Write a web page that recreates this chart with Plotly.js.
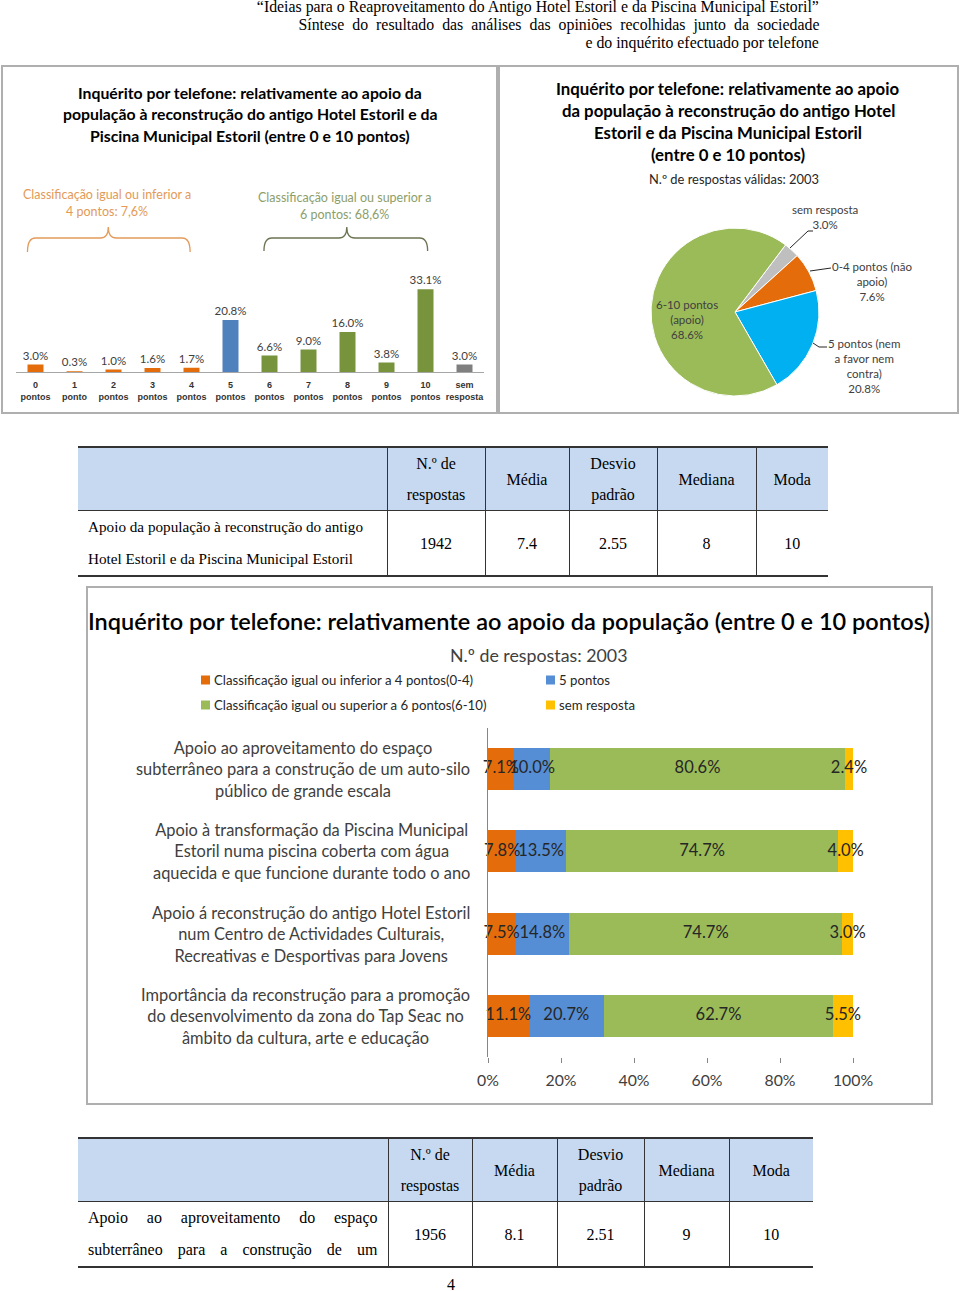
<!DOCTYPE html>
<html>
<head>
<meta charset="utf-8">
<script src="https://cdn.plot.ly/plotly-3.0.1.min.js"></script>
<style>
body{margin:0;background:#fff;width:960px;height:1291px;position:relative;overflow:hidden;font-family:"Liberation Serif",serif;color:#000;}
.box{position:absolute;border:2px solid #AFAFAF;box-sizing:border-box;pointer-events:none;}
.chart{position:absolute;}
.hl{position:absolute;right:141px;white-space:nowrap;font-size:16px;line-height:18px;transform-origin:right center;}
table.st{position:absolute;border-collapse:collapse;table-layout:fixed;font-size:16px;}
table.st td{padding:0;height:62px;line-height:31px;text-align:center;vertical-align:middle;}
table.st td+td{border-left:1px solid #333;}
table.st tr.h td{background:#C6D9F1;border-top:2px solid #333;border-bottom:1px solid #333;}
table.st tr.b td{border-bottom:2px solid #333;}
table.st td.q{text-align:left;padding-left:10px;padding-right:10px;white-space:nowrap;font-size:15.2px;line-height:32px;}
table.st td.j{text-align:justify;text-align-last:justify;font-size:16px;}
#pg{position:absolute;left:447px;top:1276px;font-size:16px;}
</style>
</head>
<body>
<div class="hl" id="h1" style="top:-2px">“Ideias para o Reaproveitamento do Antigo Hotel Estoril e da Piscina Municipal Estoril”</div>
<div class="hl" id="h2" style="top:16px">Síntese do resultado das análises das opiniões recolhidas junto da sociedade</div>
<div class="hl" id="h3" style="top:34px">e do inquérito efectuado por telefone</div>

<div id="bars" class="chart" style="left:2px;top:66px;width:495px;height:347px"></div>
<div class="box" style="left:1px;top:65px;width:497px;height:349px"></div>
<div id="pie" class="chart" style="left:499px;top:66px;width:459px;height:347px"></div>
<div class="box" style="left:498px;top:65px;width:461px;height:349px"></div>

<table class="st" id="t1" style="left:78px;top:446px;width:750px"></table>

<div id="stack" class="chart" style="left:87px;top:587px;width:845px;height:517px"></div>
<div class="box" style="left:86px;top:586px;width:847px;height:519px"></div>

<table class="st" id="t2" style="left:78px;top:1137px;width:735px"></table>
<div id="pg">4</div>

<script>
// ---------- data ----------
// phone survey, share per score (0-10 points)
const scoreLabels = ['0<br>pontos','1<br>ponto','2<br>pontos','3<br>pontos','4<br>pontos','5<br>pontos',
  '6<br>pontos','7<br>pontos','8<br>pontos','9<br>pontos','10<br>pontos','sem<br>resposta'];
const scoreShares = [3.0, 0.3, 1.0, 1.6, 1.7, 20.8, 6.6, 9.0, 16.0, 3.8, 33.1, 3.0];

// pie: grouped answers
const pieLabels = ['sem resposta', '0-4 pontos (não apoio)', '5 pontos (nem a favor nem contra)', '6-10 pontos (apoio)'];
const pieLabelText = ['sem resposta', '0-4 pontos (não<br>apoio)', '5 pontos (nem<br>a favor nem<br>contra)', '6-10 pontos<br>(apoio)'];
const pieShares = [3.0, 7.6, 20.8, 68.6];

// stacked bars: questions and groups
const questions = [
  'Apoio ao aproveitamento do espaço<br>subterrâneo para a construção de um auto-silo<br>público de grande escala',
  'Apoio à transformação da Piscina Municipal<br>Estoril numa piscina coberta com água<br>aquecida e que funcione durante todo o ano',
  'Apoio á reconstrução do antigo Hotel Estoril<br>num Centro de Actividades Culturais,<br>Recreativas e Desportivas para Jovens',
  'Importância da reconstrução para a promoção<br>do desenvolvimento da zona do Tap Seac no<br>âmbito da cultura, arte e educação'
];
const groupNames = ['Classificação igual ou inferior a 4 pontos(0-4)', '5 pontos',
  'Classificação igual ou superior a 6 pontos(6-10)', 'sem resposta'];
const lowShares = [7.1, 7.8, 7.5, 11.1];
const midShares = [10.0, 13.5, 14.8, 20.7];
const highShares = [80.6, 74.7, 74.7, 62.7];
const noAnswerShares = [2.4, 4.0, 3.0, 5.5];

// stats tables
const statHeaders = ['N.º de<br>respostas', 'Média', 'Desvio<br>padrão', 'Mediana', 'Moda'];
const table1Label = 'Apoio da população à reconstrução do antigo<br>Hotel Estoril e da Piscina Municipal Estoril';
const table1Values = ['1942', '7.4', '2.55', '8', '10'];
const table2Label = 'Apoio ao aproveitamento do espaço<br>subterrâneo para a construção de um';
const table2Values = ['1956', '8.1', '2.51', '9', '10'];

// ---------- helpers ----------
const FONT = 'Lato';
function paper(W, H, m) {
  const pw = W - m.l - m.r, ph = H - m.t - m.b;
  return {x: v => (v - m.l) / pw, y: v => (H - m.b - v) / ph};
}
function note(P, text, x, y, size, color, opts) {
  return Object.assign({text: text, xref: 'paper', yref: 'paper', x: P.x(x), y: P.y(y),
    xanchor: 'center', yanchor: 'middle', showarrow: false,
    font: {family: FONT, size: size, color: color}}, opts || {});
}
function bold(size) { return {font: {family: FONT, size: size, color: '#000', weight: 'bold'}}; }

// ---------- header ----------
(function () {
  const h1 = document.getElementById('h1'), h2 = document.getElementById('h2'), h3 = document.getElementById('h3');
  const s = 562 / h1.getBoundingClientRect().width;
  const w2 = h2.getBoundingClientRect().width;
  const gaps = h2.textContent.split(' ').length - 1;
  h2.style.wordSpacing = ((521 / s - w2) / gaps) + 'px';
  [h1, h2, h3].forEach(el => el.style.transform = 'scaleX(' + s + ')');
})();

// ---------- chart 1: bars ----------
const W1 = 495, H1 = 347, m1 = {l: 13.5, r: 12.5, t: 206, b: 41};
const P1 = paper(W1, H1, m1);
const barColors = scoreLabels.map((s, i) => i < 5 ? '#E46C0A' : i === 5 ? '#4F81BD' : i < 11 ? '#77933C' : '#7F7F7F');
const orangeTxt = '#E39A58', greenTxt = '#8C9E6A';

const ann1 = [
  note(P1, 'Inquérito por telefone: relativamente ao apoio da', 248, 26, 15.8, '#000', bold(15.8)),
  note(P1, 'população à reconstrução do antigo Hotel Estoril e da', 248, 47, 15.8, '#000', bold(15.8)),
  note(P1, 'Piscina Municipal Estoril (entre 0 e 10 pontos)', 248, 69, 15.8, '#000', bold(15.8)),
  note(P1, 'Classificação igual ou inferior a', 105, 128, 12.5, orangeTxt),
  note(P1, '4 pontos: 7,6%', 105, 145, 12.5, orangeTxt),
  note(P1, 'Classificação igual ou superior a', 343, 131, 12.5, greenTxt),
  note(P1, '6 pontos: 68,6%', 343, 148, 12.5, greenTxt)
];
function brace(P, x0, xc, x1, yl, ye, yp, color) {
  const pt = (x, y) => P.x(x) + ',' + P.y(y);
  const d = 'M' + pt(x0, ye) + ' Q' + pt(x0, yl) + ' ' + pt(x0 + 8, yl) + ' L' + pt(xc - 8, yl) +
    ' Q' + pt(xc, yl) + ' ' + pt(xc, yp) + ' Q' + pt(xc, yl) + ' ' + pt(xc + 8, yl) +
    ' L' + pt(x1 - 8, yl) + ' Q' + pt(x1, yl) + ' ' + pt(x1, ye);
  return {type: 'path', xref: 'paper', yref: 'paper', path: d, line: {color: color, width: 1.3}};
}
const shapes1 = [
  brace(P1, 25, 106, 188, 172, 186, 161, '#E49A5A'),
  brace(P1, 262, 345, 426, 172, 185, 161, '#6B7452')
];

Plotly.newPlot('bars', [{
  type: 'bar', x: scoreLabels, y: scoreShares,
  marker: {color: barColors},
  texttemplate: '%{y:.1f}%', textposition: 'outside', cliponaxis: false, constraintext: 'none',
  textfont: {family: FONT, size: 11.5, color: '#404040'}, hoverinfo: 'none'
}], {
  width: W1, height: H1, margin: m1, showlegend: false, bargap: 0.59,
  paper_bgcolor: 'rgba(0,0,0,0)', plot_bgcolor: 'rgba(0,0,0,0)',
  xaxis: {type: 'category', showline: true, linecolor: '#A6A6A6', linewidth: 1, ticks: '',
    showgrid: false, ticklabelstandoff: 4,
    tickfont: {family: 'Liberation Sans', size: 9, color: '#333', weight: 'bold'}},
  yaxis: {range: [0, 40], visible: false},
  annotations: ann1, shapes: shapes1
}, {staticPlot: true});

// ---------- chart 2: pie ----------
const W2 = 459, H2 = 347, m2 = {l: 0, r: 0, t: 0, b: 0};
const P2 = paper(W2, H2, m2);
const pieColors = ['#BFBFBF', '#E46C0A', '#00B0F0', '#9BBB59'];
const cx = 236, cy = 246, R = 84;
const pieTitle = ['Inquérito por telefone: relativamente ao apoio', 'da população à reconstrução do antigo Hotel',
  'Estoril e da Piscina Municipal Estoril', '(entre 0 e 10 pontos)'];
const ann2 = pieTitle.map((t, i) => note(P2, t, 229, 22 + i * 22, 16.8, '#000', bold(16.8)));
ann2.push(note(P2, 'N.º de respostas válidas: 2003', 235, 113, 12.9, '#262626'));
const labelSpots = [[326, 151], [373, 215], [365, 300], [188, 253]];
pieLabelText.forEach((t, i) => ann2.push(note(P2, t + '<br>' + pieShares[i].toFixed(1) + '%',
  labelSpots[i][0], labelSpots[i][1], 11.5, '#404040')));
const leaders = [
  [[291, 182], [309, 165], [314, 165]],
  [[311, 205], [332, 202]],
  [[314, 277], [320, 281], [328, 281]]
];
const shapes2 = leaders.map(pts => ({type: 'path', xref: 'paper', yref: 'paper',
  path: 'M' + pts.map(p => P2.x(p[0]) + ',' + P2.y(p[1])).join(' L'), line: {color: '#262626', width: 1}}));

Plotly.newPlot('pie', [{
  type: 'pie', labels: pieLabels, values: pieShares, sort: false, direction: 'clockwise', rotation: 37,
  marker: {colors: pieColors, line: {color: '#fff', width: 1}}, textinfo: 'none', hoverinfo: 'none',
  domain: {x: [(cx - R) / W2, (cx + R) / W2], y: [1 - (cy + R) / H2, 1 - (cy - R) / H2]}
}], {
  width: W2, height: H2, margin: m2, showlegend: false,
  paper_bgcolor: 'rgba(0,0,0,0)', annotations: ann2, shapes: shapes2
}, {staticPlot: true});

// ---------- chart 3: stacked bars ----------
const W3 = 845, H3 = 517, m3 = {l: 401, r: 79, t: 141, b: 47};
const P3 = paper(W3, H3, m3);
const groupColors = ['#E46C0A', '#558ED5', '#9BBB59', '#FFC000'];
const groups = [lowShares, midShares, highShares, noAnswerShares];
const traces3 = groups.map((vals, k) => ({
  type: 'bar', orientation: 'h', y: questions, x: vals, name: groupNames[k],
  marker: {color: groupColors[k]}, hoverinfo: 'none'
}));
// value labels centred on each segment
groups.forEach((vals, k) => {
  const mids = vals.map((v, i) => groups.slice(0, k).reduce((s, g) => s + g[i], 0) + v / 2);
  traces3.push({type: 'scatter', mode: 'text', y: questions, x: mids,
    text: vals.map(v => v.toFixed(1) + '%'), cliponaxis: false, hoverinfo: 'none',
    textposition: 'middle center', textfont: {family: FONT, size: 16.5, color: '#262626'}});
});
const ann3 = [
  note(P3, 'Inquérito por telefone: relativamente ao apoio da população (entre 0 e 10 pontos)', 422, 34, 23.5, '#000',
    {font: {family: FONT, size: 23.5, color: '#000', weight: 600}}),
  note(P3, 'N.º de respostas: 2003', 451, 68, 17.8, '#404040')
];
const legendSpots = [[114, 93], [459, 93], [114, 118], [459, 118]];
const shapes3 = [];
groupNames.forEach((n, k) => {
  const [lx, ly] = legendSpots[k];
  shapes3.push({type: 'rect', xref: 'paper', yref: 'paper', x0: P3.x(lx), x1: P3.x(lx + 9),
    y0: P3.y(ly + 4.5), y1: P3.y(ly - 4.5), fillcolor: groupColors[k], line: {width: 0}});
  ann3.push(note(P3, n, lx + 11, ly, 13.2, '#262626', {xanchor: 'left'}));
});
questions.forEach(q => ann3.push({text: q, xref: 'paper', yref: 'y', x: P3.x(385), y: q,
  xanchor: 'right', yanchor: 'middle', align: 'center', showarrow: false,
  font: {family: FONT, size: 16.4, color: '#404040'}}));

Plotly.newPlot('stack', traces3, {
  width: W3, height: H3, margin: m3, barmode: 'stack', bargap: 0.49, showlegend: false,
  paper_bgcolor: 'rgba(0,0,0,0)', plot_bgcolor: 'rgba(0,0,0,0)',
  xaxis: {range: [0, 100], dtick: 20, ticksuffix: '%', showgrid: false, zeroline: false, showline: false,
    ticks: 'outside', ticklen: 5, tickcolor: '#868686', ticklabelstandoff: 4,
    tickfont: {family: FONT, size: 15.8, color: '#404040'}},
  yaxis: {type: 'category', autorange: 'reversed', showticklabels: false, showline: true,
    linecolor: '#868686', showgrid: false, ticks: ''},
  annotations: ann3, shapes: shapes3
}, {staticPlot: true});

// ---------- tables ----------
function fillTable(id, widths, label, values, justify) {
  const t = document.getElementById(id);
  let html = '<colgroup>' + widths.map(w => '<col style="width:' + w + 'px">').join('') + '</colgroup>';
  html += '<tr class="h"><td></td>' + statHeaders.map(h => '<td>' + h + '</td>').join('') + '</tr>';
  html += '<tr class="b"><td class="q' + (justify ? ' j' : '') + '">' + label + '</td>' +
    values.map(v => '<td>' + v + '</td>').join('') + '</tr>';
  t.innerHTML = html;
}
fillTable('t1', [309, 98, 84, 88, 99, 72], table1Label, table1Values, false);
fillTable('t2', [310, 84, 85, 87, 85, 84], table2Label, table2Values, true);
</script>
</body>
</html>
